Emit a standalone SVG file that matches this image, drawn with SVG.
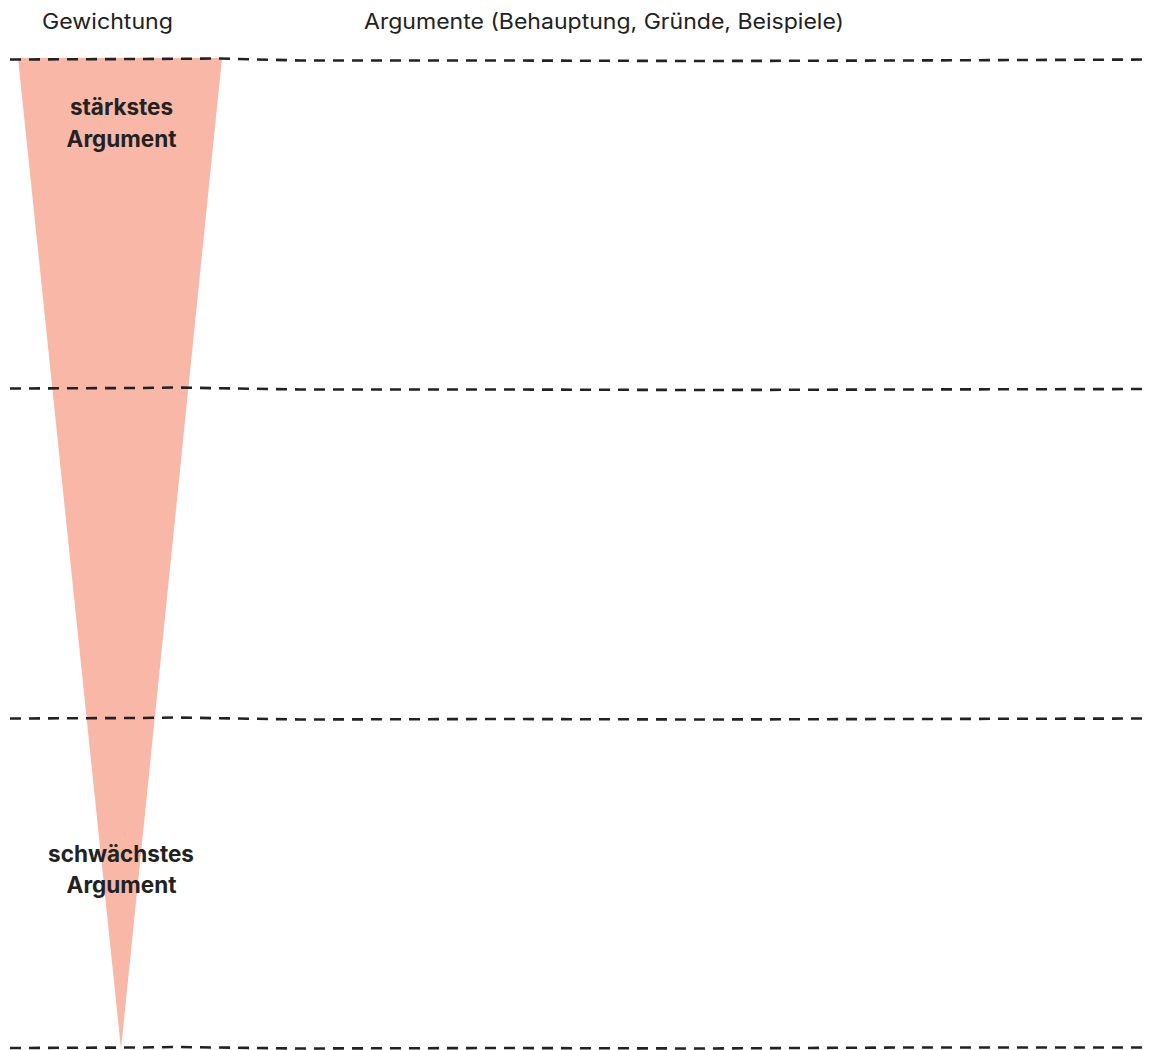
<svg xmlns="http://www.w3.org/2000/svg" width="1160" height="1050" viewBox="0 0 1160 1050">
<style>
.hdr{font-family:Inter,"Liberation Sans",sans-serif;font-size:21px;fill:#222;}
.lbl{font-family:Inter,"Liberation Sans",sans-serif;font-size:22.5px;font-weight:bold;fill:#222;text-anchor:middle;}
.dash{fill:none;stroke:#222;stroke-width:2.6;stroke-dasharray:11 8;stroke-linecap:butt;}
</style>
<rect width="1160" height="1050" fill="#fff"/>
<g id="wedge">
<polygon points="18,58 222,58 121,1049" fill="#f8b7a7"/>
</g>
<g id="headers">
<text class="hdr" x="42" y="29" textLength="131" lengthAdjust="spacingAndGlyphs">Gewichtung</text>
<text class="hdr" x="364" y="29" textLength="480" lengthAdjust="spacingAndGlyphs">Argumente (Behauptung, Gründe, Beispiele)</text>
</g>
<g id="strongest">
<text class="lbl" x="121.5" y="115">stärkstes</text>
<text class="lbl" x="121.5" y="146.5">Argument</text>
</g>
<g id="weakest">
<text class="lbl" x="121" y="862">schwächstes</text>
<text class="lbl" x="121.5" y="893">Argument</text>
</g>
<g id="connectors">
<path class="dash" d="M10,59.5 L140,59 L220,58.5 L300,60.5 L500,60.5 L700,61 L900,60.5 L1150,59.5"/>
<path class="dash" d="M10,388.5 L140,388 L175,387.5 L300,389.5 L500,389.5 L700,390 L900,389.5 L1150,389"/>
<path class="dash" d="M10,718.5 L140,718 L175,717.5 L300,719.5 L500,719 L700,719.5 L900,719 L1150,718.5"/>
<path class="dash" d="M10,1048 L140,1047.5 L175,1047 L300,1048.5 L500,1048 L700,1048.5 L900,1047.5 L1150,1047.5"/>
</g>
</svg>
